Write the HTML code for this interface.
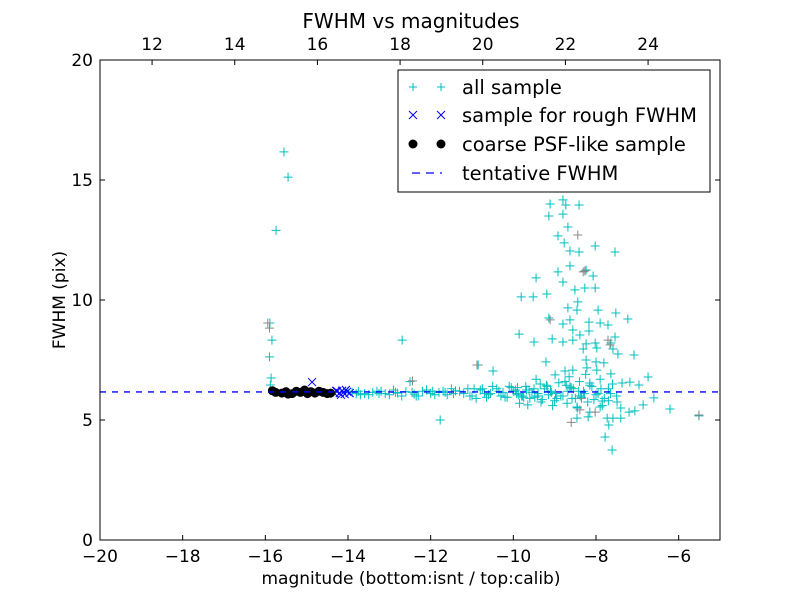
<!DOCTYPE html>
<html><head><meta charset="utf-8"><style>
html,body{margin:0;padding:0;background:#fff;}
svg{display:block;font-family:"DejaVu Sans","Liberation Sans",sans-serif;}
</style></head><body>
<svg id="chart" width="800" height="600" viewBox="0 0 800 600" xmlns="http://www.w3.org/2000/svg">
<rect x="0" y="0" width="800" height="600" fill="#fff"/>
<g id="marks"></g>
<g id="axes"></g>
</svg>
<script>
const xTicks=[-20,-18,-16,-14,-12,-10,-8,-6];
const xTickLabels=["\u221220","\u221218","\u221216","\u221214","\u221212","\u221210","\u22128","\u22126"];
const yTicks=[0,5,10,15,20];
const topTicks=[12,14,16,18,20,22,24];
const topOffset=30.74;
const tentativeFWHM=6.17;
const allX=[-15.55,-15.45,-15.74,-15.89,-15.84,-15.9,-15.86,-15.88,-12.69,-11.77,-10.85,-10.49,
-9.11,-8.80,-8.73,-8.41,-9.14,-8.80,-8.68,-8.92,-8.77,-8.63,-8.41,-8.02,-7.54,-8.92,-8.63,-8.24,-8.07,-8.80,-9.45,-8.51,-8.27,-8.02,
-9.81,-9.52,-9.19,-8.44,-8.68,-8.46,-7.95,-7.52,-7.23,-9.14,-8.63,-8.80,-8.17,-7.90,-7.71,-9.86,-8.56,-8.39,-8.17,-9.50,-9.06,-8.80,-8.56,-8.24,-8.02,-7.54,-7.64,
-8.31,-7.98,-7.59,-7.47,-7.08,-9.21,-8.24,-8.00,-7.81,-8.75,-8.56,-8.22,-7.98,-8.99,-7.64,-6.74,-7.18,-7.37,-6.96,-8.63,-8.15,
-6.60,-6.21,-5.51,-6.86,-7.06,-7.20,-7.40,-7.49,-7.85,-8.46,-8.46,-8.19,-8.15,-7.73,-7.59,-7.40,-7.69,-7.78,-7.61,-9.33,-9.65,-7.90,
-13.6,-13.4,-13.2,-13.0,-12.8,-12.6,-12.4,-12.2,-12.0,-11.8,-11.6,-11.4,-11.2,-11.0,-10.8,-10.6,-10.4,-10.2,-10.0,-9.9,-9.8,-9.7,-9.6,-9.5,-9.4,-9.3,-9.2,-9.1,-9.0,-8.9,-8.8,-8.7,-8.6,-8.5,-8.4,-8.3,-8.2,-8.1,-8.0,-7.9,-7.8,-7.7,-7.6,-7.5,
-13.5,-12.9,-12.3,-11.7,-11.1,-10.7,-10.3,-10.1,-9.95,-9.75,-9.55,-9.35,-9.15,-8.95,-8.75,-8.55,-8.35,-8.15,-7.95,-7.7,
-14.0,-13.8,-12.5,-11.5,-10.9,-10.5,-9.85,-9.45,-9.05,-8.65,-8.45,-8.25,-7.85,
-13.9,-13.7,-13.3,-13.1,-12.7,-12.45,-12.1,-11.9,-11.65,-11.3,-11.05,-10.75,-10.55,-10.35,-10.15,-10.05,-9.92,-9.78,-9.62,-9.48,-9.25,-9.08,-8.85,-8.72,-8.58,-8.42,-8.28,-8.05,-7.88,-7.65,
-13.75,-13.25,-12.85,-12.35,-11.95,-11.45,-10.95,-10.65,-10.25,-9.88,-9.68,-9.42,-9.18,-8.98,-8.68,-8.38];
const allY=[16.17,15.12,12.9,9.04,8.33,7.63,6.75,6.46,8.33,5.0,7.29,7.04,
14.0,14.17,13.96,13.96,13.5,13.58,13.04,12.67,12.38,12.04,12.0,12.25,12.0,11.17,11.42,11.25,11.0,10.75,10.92,10.42,10.5,10.5,
10.13,10.13,10.25,9.92,9.67,9.58,9.58,9.46,9.21,9.25,9.17,9.0,9.08,9.04,8.96,8.58,8.75,8.54,8.71,8.25,8.38,8.25,8.33,8.17,8.21,8.46,8.21,
7.96,8.0,7.96,7.75,7.71,7.42,7.5,7.42,7.38,7.04,7.08,7.17,7.08,6.88,6.92,6.79,6.58,6.54,6.46,6.38,6.54,
5.92,5.46,5.17,5.63,5.38,5.33,5.5,5.75,5.79,5.54,5.08,5.13,5.33,5.08,5.08,5.08,4.79,4.29,3.75,5.75,5.63,5.54,
6.1,6.15,6.2,6.05,6.12,6.18,6.08,6.2,6.1,6.15,6.05,6.22,6.1,6.0,6.25,6.05,6.3,5.95,6.2,6.35,6.0,6.4,5.9,6.3,6.1,5.85,6.45,6.2,5.8,6.55,6.0,5.7,6.35,5.9,6.6,6.2,5.75,6.4,6.05,6.7,5.9,6.3,6.5,6.0,
6.05,6.25,6.0,6.2,6.3,6.1,6.0,6.4,6.25,5.95,6.15,6.5,6.05,5.9,6.6,6.3,5.95,6.45,6.1,5.8,
6.2,6.1,6.6,6.3,5.9,6.4,5.7,6.7,5.6,6.8,5.5,6.9,5.6,
6.15,6.05,6.2,6.1,6.0,6.15,6.25,6.05,6.15,6.2,6.0,6.3,6.1,6.2,5.95,6.35,6.1,6.0,6.25,5.95,6.3,6.15,6.0,6.45,5.9,6.2,6.1,5.85,6.3,6.1,
6.2,6.1,6.15,6.0,6.2,6.1,6.3,5.95,6.15,6.05,6.25,6.0,6.4,6.1,6.2,6.0];
const grayX=[-15.94,-15.9,-12.44,-10.88,-8.27,-8.31,-7.71,-7.66,-5.51,-8.39,-8.02,-9.11,-8.44,-8.6,-8.35];
const grayY=[9.04,8.83,6.63,7.29,11.21,11.17,8.33,8.13,5.21,5.42,5.33,9.17,12.71,4.9,5.9];
const roughX=[-14.87,-14.32,-14.26,-14.2,-14.14,-14.08,-14.02,-13.96,-14.29,-14.17,-14.05];
const roughY=[6.58,6.1,6.2,6.12,6.22,6.08,6.18,6.12,6.22,6.05,6.25];
const psfX=[-15.83,-15.75,-15.6,-15.5,-15.35,-15.25,-15.15,-15.05,-14.98,-14.9,-14.8,-14.7,-14.6,-14.5,-14.42,-15.45];
const psfY=[6.22,6.15,6.12,6.18,6.1,6.2,6.15,6.25,6.1,6.18,6.12,6.2,6.15,6.1,6.12,6.08];

const L=100,R=720,T=60,B=540,X0=-20,X1=-5,Y0=0,Y1=20;
function sx(v){return L+(v-X0)/(X1-X0)*(R-L);}
function sy(v){return B-(v-Y0)/(Y1-Y0)*(B-T);}
const NS="http://www.w3.org/2000/svg";
function mk(tag,attrs,parent){const e=document.createElementNS(NS,tag);for(const k in attrs)e.setAttribute(k,attrs[k]);parent.appendChild(e);return e;}
const marks=document.getElementById('marks');
const axes=document.getElementById('axes');
function plus(x,y,c,p,s){return mk('path',{d:`M${x-s},${y}H${x+s}M${x},${y-s}V${y+s}`,stroke:c,'stroke-width':1,fill:'none'},p);}
function cross(x,y,c,p,s){return mk('path',{d:`M${x-s},${y-s}L${x+s},${y+s}M${x-s},${y+s}L${x+s},${y-s}`,stroke:c,'stroke-width':1,fill:'none'},p);}
const clipG=mk('g',{},marks);


for(let i=0;i<allX.length;i++){const e=plus(sx(allX[i]),sy(allY[i]),'#00bfbf',clipG,4.5);

}
for(let i=0;i<grayX.length;i++){const e=plus(sx(grayX[i]),sy(grayY[i]),'#888',clipG,4.5);

}
for(let i=0;i<roughX.length;i++){const e=cross(sx(roughX[i]),sy(roughY[i]),'#0000ff',clipG,4);

}
for(let i=0;i<psfX.length;i++){const e=mk('circle',{cx:sx(psfX[i]),cy:sy(psfY[i]),r:4.5,fill:'#000'},clipG);

}
const hl=mk('line',{x1:L,x2:R,y1:sy(tentativeFWHM),y2:sy(tentativeFWHM),stroke:'#0000ff','stroke-width':1.3,'stroke-dasharray':'6,6'},marks);



const frame=mk('rect',{x:L,y:T,width:R-L,height:B-T,fill:'none',stroke:'#000','stroke-width':1},axes);


xTicks.forEach((v,i)=>{const x=sx(v);
mk('line',{x1:x,x2:x,y1:B,y2:B-5,stroke:'#000'},axes);
const t=mk('text',{x:x,y:B+22,'font-size':17,'text-anchor':'middle'},axes);t.textContent=xTickLabels[i];

});
yTicks.forEach(v=>{const y=sy(v);
mk('line',{x1:L,x2:L+5,y1:y,y2:y,stroke:'#000'},axes);
mk('line',{x1:R,x2:R-5,y1:y,y2:y,stroke:'#000'},axes);
const t=mk('text',{x:L-7,y:y+6,'font-size':17,'text-anchor':'end'},axes);t.textContent=String(v);

});
topTicks.forEach(v=>{const x=sx(v-topOffset);
mk('line',{x1:x,x2:x,y1:T,y2:T+5,stroke:'#000'},axes);
const t=mk('text',{x:x,y:T-10,'font-size':17,'text-anchor':'middle'},axes);t.textContent=String(v);

});
const title=mk('text',{x:411,y:28,'font-size':20,'text-anchor':'middle'},axes);title.textContent='FWHM vs magnitudes';


const xl=mk('text',{x:411,y:584,'font-size':17,'text-anchor':'middle'},axes);xl.textContent='magnitude (bottom:isnt / top:calib)';


const yl=mk('text',{x:0,y:0,'font-size':17,'text-anchor':'middle',transform:'translate(65,300) rotate(-90)'},axes);yl.textContent='FWHM (pix)';



const leg=mk('g',{},axes);


mk('rect',{x:398,y:70,width:312,height:122,fill:'#fff',stroke:'#000','stroke-width':1},leg);
const labels=['all sample','sample for rough FWHM','coarse PSF-like sample','tentative FWHM'];
const rows=[87,115,144,173];
rows.forEach((y,i)=>{
 if(i===0){plus(413,y,'#00bfbf',leg,4);plus(441,y,'#00bfbf',leg,4);}
 if(i===1){cross(413,y,'#0000ff',leg,4);cross(441,y,'#0000ff',leg,4);}
 if(i===2){mk('circle',{cx:413,cy:y,r:4.5,fill:'#000'},leg);mk('circle',{cx:441,cy:y,r:4.5,fill:'#000'},leg);}
 if(i===3){mk('line',{x1:412,x2:442,y1:y,y2:y,stroke:'#0000ff','stroke-width':1.3,'stroke-dasharray':'8,6'},leg);}
 const t=mk('text',{x:462,y:y+7,'font-size':19.5},leg);t.textContent=labels[i];
 
 
});
</script>
</body></html>
